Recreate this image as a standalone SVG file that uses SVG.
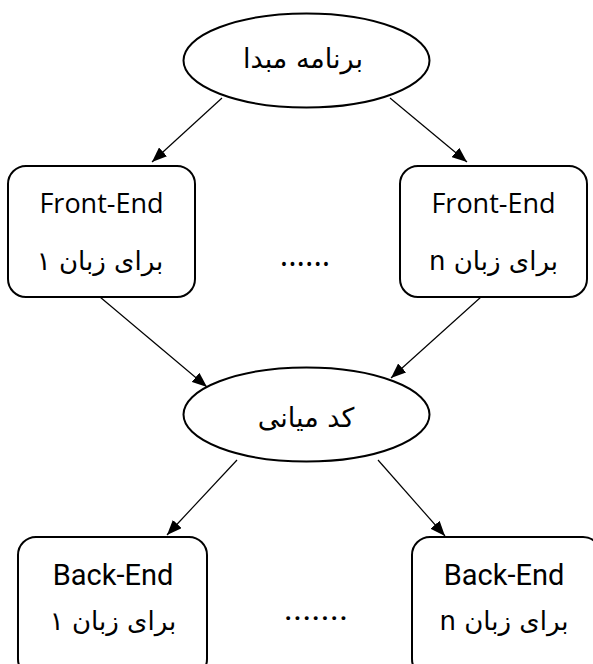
<svg xmlns="http://www.w3.org/2000/svg" width="593" height="664" viewBox="0 0 593 664">
<style>
.node{fill:#fff;stroke:#000;stroke-width:2}
.edge{stroke:#000;stroke-width:1.2;fill:none;marker-end:url(#ah)}
text{font-size:27px;fill:#000;text-anchor:middle}
.fe{font-family:"Open Sans","DejaVu Sans",sans-serif}
.be{font-family:Roboto,"DejaVu Sans",sans-serif;font-size:29px}
.fa{font-family:"DejaVu Sans",sans-serif;direction:rtl;unicode-bidi:embed;font-size:26px}
.big{font-size:27px}
</style>
<defs>
<marker id="ah" markerWidth="16" markerHeight="12" refX="15" refY="6" orient="auto" markerUnits="userSpaceOnUse">
<path d="M0,0 L15,6 L0,12 Z" fill="#000"/>
</marker>
</defs>
<rect width="593" height="664" fill="#fff"/>
<g id="connectors">
<line class="edge" x1="222" y1="98" x2="152" y2="162"/>
<line class="edge" x1="390" y1="98" x2="467" y2="162"/>
<line class="edge" x1="100" y1="297" x2="207" y2="387"/>
<line class="edge" x1="481" y1="297" x2="391" y2="378"/>
<line class="edge" x1="237" y1="460" x2="167" y2="535"/>
<line class="edge" x1="378" y1="460" x2="445" y2="536"/>
</g>
<g id="source">
<ellipse class="node" cx="306.5" cy="60.5" rx="123" ry="47"/>
<text class="fa big" x="303" y="68">برنامه مبدا</text>
</g>
<g id="fe1">
<rect class="node" x="8" y="166" width="187" height="131" rx="18"/>
<text class="fe" x="101.5" y="213">Front-End</text>
<text class="fa" x="100" y="270">برای زبان ۱</text>
</g>
<g id="fedots">
<text class="fe" x="305" y="266" style="font-size:32px">......</text>
</g>
<g id="fen">
<rect class="node" x="400" y="166" width="187" height="131" rx="18"/>
<text class="fe" x="493.5" y="213">Front-End</text>
<text class="fa" x="493.5" y="270">برای زبان n</text>
</g>
<g id="ir">
<ellipse class="node" cx="306.5" cy="414.5" rx="123" ry="47"/>
<text class="fa big" x="306" y="427">کد میانی</text>
</g>
<g id="be1">
<rect class="node" x="18" y="537" width="189" height="140" rx="18"/>
<text class="be" x="113" y="585">Back-End</text>
<text class="fa" x="113" y="630">برای زبان ۱</text>
</g>
<g id="bedots">
<text class="be" x="316" y="620" style="font-size:35px">.......</text>
</g>
<g id="ben">
<rect class="node" x="412" y="537" width="189" height="140" rx="18"/>
<text class="be" x="504" y="585">Back-End</text>
<text class="fa" x="504" y="630">برای زبان n</text>
</g>
</svg>
